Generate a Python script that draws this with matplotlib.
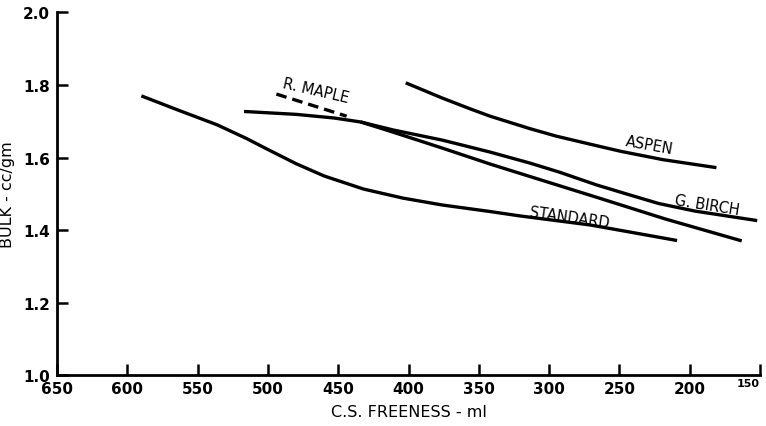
import matplotlib
matplotlib.use("Agg")
import matplotlib.pyplot as plt

# Bulk vs. Canadian Standard freeness for several pulps
standard_freeness = [590, 564, 536, 515, 501, 480, 460, 432, 404, 376, 342, 321, 271, 242, 209]
standard_bulk = [1.770, 1.731, 1.690, 1.652, 1.624, 1.583, 1.549, 1.513, 1.488, 1.469, 1.451, 1.439, 1.414, 1.394, 1.371]

aspen_freeness = [402, 376, 356, 342, 314, 295, 270, 249, 219, 181]
aspen_bulk = [1.806, 1.764, 1.734, 1.714, 1.680, 1.659, 1.636, 1.617, 1.594, 1.572]

birch_freeness = [517, 480, 453, 434, 411, 376, 342, 314, 293, 266, 242, 222, 196, 152]
birch_bulk = [1.727, 1.719, 1.709, 1.698, 1.676, 1.648, 1.615, 1.585, 1.560, 1.524, 1.496, 1.473, 1.452, 1.426]

# red maple: extrapolated (dashed) part, then measured part
maple_dashed_freeness = [494, 444]
maple_dashed_bulk = [1.775, 1.714]
maple_freeness = [434, 411, 376, 342, 314, 266, 217, 163]
maple_bulk = [1.698, 1.670, 1.626, 1.582, 1.548, 1.490, 1.430, 1.370]

x_ticks = [650, 600, 550, 500, 450, 400, 350, 300, 250, 200, 150]
y_ticks = [1.0, 1.2, 1.4, 1.6, 1.8, 2.0]

fig = plt.figure(figsize=(7.66, 4.27), dpi=100)
ax = fig.add_axes([0.0744, 0.1194, 0.9178, 0.849])

lw = 2.4
line_kw = dict(color="black", lw=lw, solid_capstyle="butt", solid_joinstyle="round")
ax.plot(standard_freeness, standard_bulk, **line_kw)
ax.plot(aspen_freeness, aspen_bulk, **line_kw)
ax.plot(birch_freeness, birch_bulk, **line_kw)
ax.plot(maple_freeness, maple_bulk, **line_kw)
ax.plot(maple_dashed_freeness, maple_dashed_bulk, color="black", lw=lw,
        dashes=(3.2, 1.8), dash_capstyle="butt")

label_kw = dict(fontsize=10.5, color="black", ha="center", va="center")
ax.text(229.0, 1.636, "ASPEN", rotation=-10, **label_kw)
ax.text(187.5, 1.469, "G. BIRCH", rotation=-9, **label_kw)
ax.text(285.5, 1.436, "STANDARD", rotation=-8, **label_kw)
ax.text(466.0, 1.786, "R. MAPLE", rotation=-13, **label_kw)

ax.set_xlim(650, 150)
ax.set_ylim(1.0, 2.0)
ax.set_xticks(x_ticks)
ax.set_xticklabels([str(v) for v in x_ticks[:-1]] + [""])
ax.set_yticks(y_ticks)
ax.set_yticklabels([f"{v:.1f}" for v in y_ticks])

for side in ("top", "right"):
    ax.spines[side].set_visible(False)
for side in ("left", "bottom"):
    ax.spines[side].set_linewidth(2.0)

ax.tick_params(axis="both", direction="in", width=1.8, length=8, colors="black")
ax.tick_params(axis="x", pad=4)
ax.tick_params(axis="y", pad=5)
for lab in ax.get_xticklabels() + ax.get_yticklabels():
    lab.set_fontsize(11)
    lab.set_fontweight("bold")

# the last freeness label is set smaller, tucked under the end of the axis
ax.annotate(str(x_ticks[-1]), xy=(x_ticks[-1], 0), xycoords=("data", "axes fraction"),
            xytext=(0, -2), textcoords="offset points", ha="right", va="top",
            fontsize=8, fontweight="bold")

ax.set_xlabel("C.S. FREENESS - ml", fontsize=11.5, labelpad=6)
ax.set_ylabel("BULK - cc/gm", fontsize=11.5, labelpad=6)

fig.savefig("out.png", dpi=100)
